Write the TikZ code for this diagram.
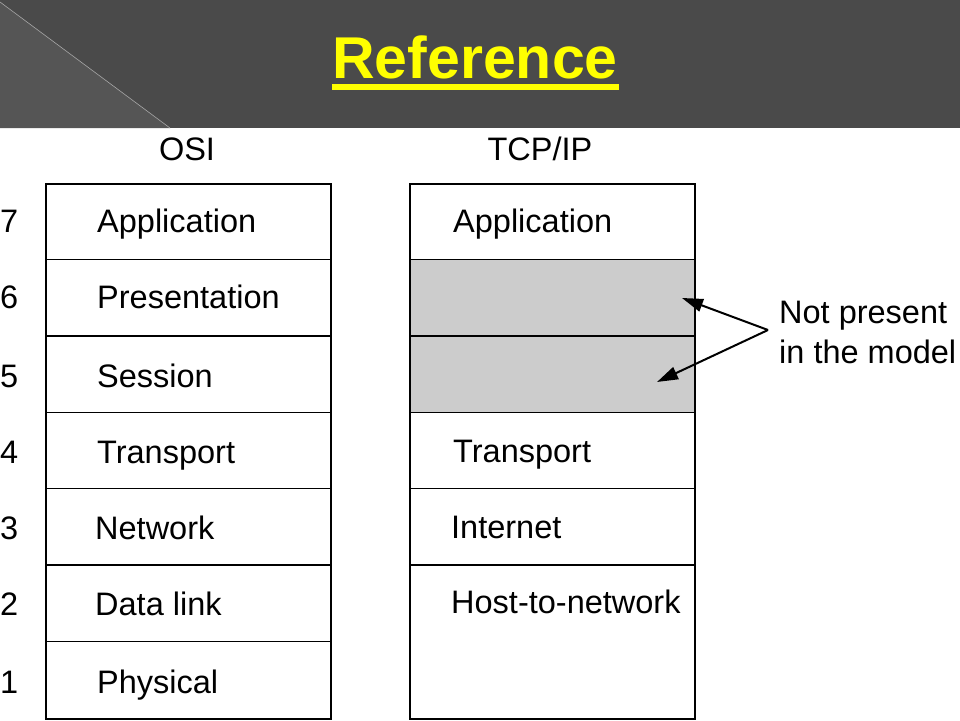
\documentclass[tikz,border=0pt]{standalone}
\usepackage{fontspec}
\setmainfont{Liberation Sans}
\usetikzlibrary{arrows.meta}
\definecolor{banner}{HTML}{4A4A4A}
\definecolor{bannertri}{HTML}{555555}
\definecolor{layergray}{HTML}{CCCCCC}
\definecolor{titleyellow}{HTML}{FFFF00}
\begin{document}
\begin{tikzpicture}[x=1pt,y=-1pt,
  lbl/.style={font=\fontsize{32.5}{39}\selectfont, anchor=base west, inner sep=0pt},
  head/.style={font=\fontsize{32.5}{39}\selectfont, anchor=base, inner sep=0pt},
  frame/.style={draw=black, line width=2pt},
  divider/.style={draw=black, line width=1.5pt},
  pointer/.style={draw=black, line width=2pt, -{Triangle[length=21pt,width=13pt]}}]
\useasboundingbox (0,0) rectangle (960,720);
\fill[white] (0,0) rectangle (960,720);
% banner
\fill[banner] (0,0) rectangle (960,128);
\fill[bannertri] (0,2) -- (170,128) -- (0,128) -- cycle;
\draw[gray!70, line width=0.6pt] (0,2) -- (170,128);
\node[font=\fontsize{59}{70}\selectfont\bfseries, text=titleyellow, anchor=base, inner sep=0pt] (title) at (475,78) {Reference};
\fill[titleyellow] (332,84) rectangle (619,90);
% headings
\node[head] (osi) at (187,160) {OSI};
\node[head] (tcp) at (540,160) {TCP/IP};
% OSI stack
\draw[divider] (45,259.4) -- (330,259.4);
\draw[divider] (45,335.9) -- (330,335.9);
\draw[divider] (45,412.3) -- (330,412.3);
\draw[divider] (45,488.7) -- (330,488.7);
\draw[divider] (45,565.1) -- (330,565.1);
\draw[divider] (45,641.6) -- (330,641.6);
\node[frame, rectangle, minimum width=285pt, minimum height=535pt, inner sep=0pt, anchor=north west] (osibox) at (45,183) {};
% TCP/IP stack
\fill[layergray] (409,259.4) rectangle (694,412.3);
\draw[divider] (409,259.4) -- (694,259.4);
\draw[divider] (409,335.9) -- (694,335.9);
\draw[divider] (409,412.3) -- (694,412.3);
\draw[divider] (409,488.7) -- (694,488.7);
\draw[divider] (409,565.1) -- (694,565.1);
\node[frame, rectangle, minimum width=285pt, minimum height=535pt, inner sep=0pt, anchor=north west] (tcpbox) at (409,183) {};
% layer numbers
\node[lbl] (n7) at (0,232) {7};
\node[lbl] (n6) at (0,308) {6};
\node[lbl] (n5) at (0,387) {5};
\node[lbl] (n4) at (0,463) {4};
\node[lbl] (n3) at (0,539) {3};
\node[lbl] (n2) at (0,615) {2};
\node[lbl] (n1) at (0,693) {1};
% OSI labels
\node[lbl] (oapp) at (97,232) {Application};
\node[lbl] (opres) at (97,308) {Presentation};
\node[lbl] (osess) at (97,387) {Session};
\node[lbl] (otrans) at (97,463) {Transport};
\node[lbl] (onet) at (95,539) {Network};
\node[lbl] (odl) at (95,615) {Data link};
\node[lbl] (ophys) at (97,693) {Physical};
% TCP/IP labels
\node[lbl] (tapp) at (453,232) {Application};
\node[lbl] (ttrans) at (453,462) {Transport};
\node[lbl] (tinet) at (451,538) {Internet};
\node[lbl] (thost) at (451,613) {Host-to-network};
% note
\node[lbl] (note1) at (779,323) {Not present};
\node[lbl] (note2) at (779,363) {in the model};
\coordinate (src) at (768,330);
\coordinate (tip6) at (682,298);
\coordinate (tip5) at (657,382);
\draw[pointer] (src) -- (tip6);
\draw[pointer] (src) -- (tip5);
\end{tikzpicture}
\end{document}
